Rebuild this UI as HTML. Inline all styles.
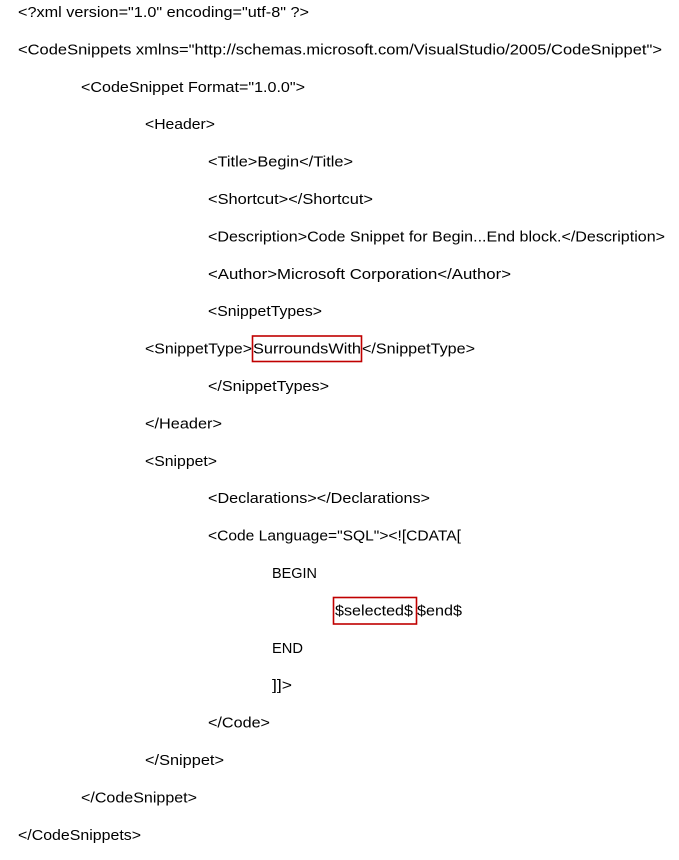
<!DOCTYPE html>
<html><head><meta charset="utf-8"><style>
html,body{margin:0;padding:0;background:#fff;width:679px;height:860px;overflow:hidden}
text{font-family:"Liberation Sans",sans-serif;font-size:14.5px;fill:#000}
</style></head><body>
<svg width="679" height="860" xmlns="http://www.w3.org/2000/svg">
<text x="18" y="17" textLength="291" lengthAdjust="spacingAndGlyphs">&lt;?xml version="1.0" encoding="utf-8" ?&gt;</text>
<text x="18" y="54.4" textLength="644" lengthAdjust="spacingAndGlyphs">&lt;CodeSnippets  xmlns="http://schemas.microsoft.com/VisualStudio/2005/CodeSnippet"&gt;</text>
<text x="81" y="91.8" textLength="224" lengthAdjust="spacingAndGlyphs">&lt;CodeSnippet Format="1.0.0"&gt;</text>
<text x="145" y="129.2" textLength="70" lengthAdjust="spacingAndGlyphs">&lt;Header&gt;</text>
<text x="208" y="166.6" textLength="145" lengthAdjust="spacingAndGlyphs">&lt;Title&gt;Begin&lt;/Title&gt;</text>
<text x="208" y="204" textLength="165" lengthAdjust="spacingAndGlyphs">&lt;Shortcut&gt;&lt;/Shortcut&gt;</text>
<text x="208" y="241.4" textLength="457" lengthAdjust="spacingAndGlyphs">&lt;Description&gt;Code Snippet for Begin...End block.&lt;/Description&gt;</text>
<text x="208" y="278.8" textLength="303" lengthAdjust="spacingAndGlyphs">&lt;Author&gt;Microsoft Corporation&lt;/Author&gt;</text>
<text x="208" y="316.2" textLength="114" lengthAdjust="spacingAndGlyphs">&lt;SnippetTypes&gt;</text>
<text x="145" y="353.6" textLength="107" lengthAdjust="spacingAndGlyphs">&lt;SnippetType&gt;</text>
<text x="253" y="353.6" textLength="108" lengthAdjust="spacingAndGlyphs">SurroundsWith</text>
<text x="362" y="353.6" textLength="113" lengthAdjust="spacingAndGlyphs">&lt;/SnippetType&gt;</text>
<rect x="252.5" y="336" width="109" height="25.5" fill="none" stroke="#c00000" stroke-width="1.6"/>
<text x="208" y="391" textLength="121" lengthAdjust="spacingAndGlyphs">&lt;/SnippetTypes&gt;</text>
<text x="145" y="428.4" textLength="77" lengthAdjust="spacingAndGlyphs">&lt;/Header&gt;</text>
<text x="145" y="465.8" textLength="72" lengthAdjust="spacingAndGlyphs">&lt;Snippet&gt;</text>
<text x="208" y="503.2" textLength="222" lengthAdjust="spacingAndGlyphs">&lt;Declarations&gt;&lt;/Declarations&gt;</text>
<text x="208" y="540.6" textLength="253" lengthAdjust="spacingAndGlyphs">&lt;Code Language="SQL"&gt;&lt;![CDATA[</text>
<text x="272" y="578" textLength="45" lengthAdjust="spacingAndGlyphs">BEGIN</text>
<text x="335" y="615.4" textLength="78" lengthAdjust="spacingAndGlyphs">$selected$</text>
<text x="417" y="615.4" textLength="45" lengthAdjust="spacingAndGlyphs">$end$</text>
<rect x="333.5" y="597.5" width="83" height="26.5" fill="none" stroke="#c00000" stroke-width="1.6"/>
<text x="272" y="652.8" textLength="31" lengthAdjust="spacingAndGlyphs">END</text>
<text x="272" y="690.2" textLength="20" lengthAdjust="spacingAndGlyphs">]]&gt;</text>
<text x="208" y="727.6" textLength="62" lengthAdjust="spacingAndGlyphs">&lt;/Code&gt;</text>
<text x="145" y="765" textLength="79" lengthAdjust="spacingAndGlyphs">&lt;/Snippet&gt;</text>
<text x="81" y="802.4" textLength="116" lengthAdjust="spacingAndGlyphs">&lt;/CodeSnippet&gt;</text>
<text x="18" y="839.8" textLength="123" lengthAdjust="spacingAndGlyphs">&lt;/CodeSnippets&gt;</text>
</svg>
</body></html>
